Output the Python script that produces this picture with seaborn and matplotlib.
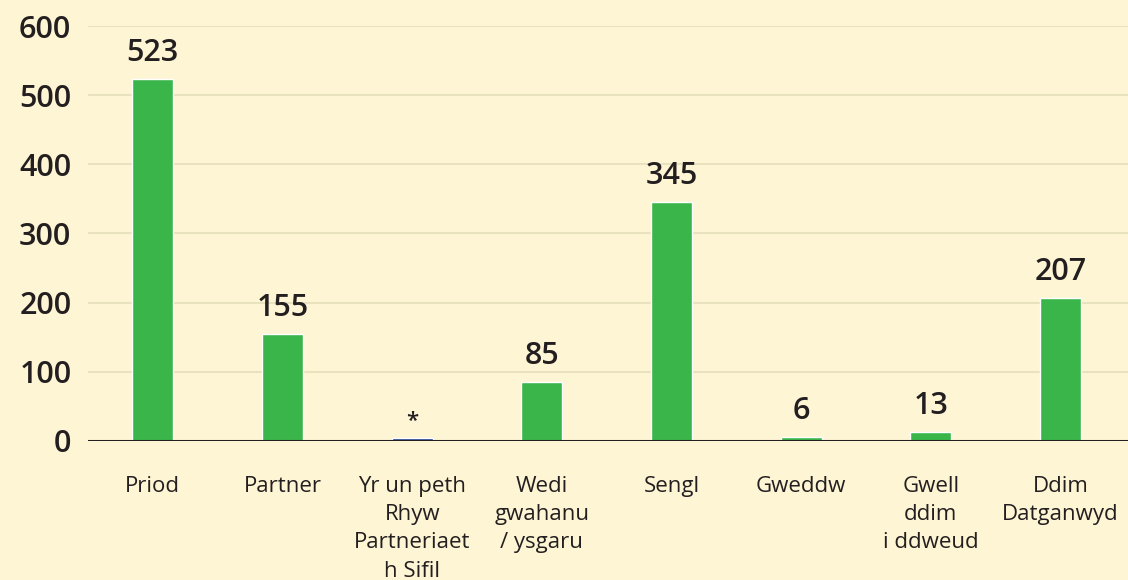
import matplotlib
matplotlib.use("Agg")
import matplotlib.pyplot as plt
import seaborn as sns
import pandas as pd

categories = ["Priod", "Partner", "Yr un peth\nRhyw\nPartneriaet\nh Sifil", "Wedi\ngwahanu\n/ ysgaru",
              "Sengl", "Gweddw", "Gwell\nddim\ni ddweud", "Ddim\nDatganwyd"]
values = [523, 155, 4, 85, 345, 6, 13, 207]
value_labels = ["523", "155", "*", "85", "345", "6", "13", "207"]
bar_colors = ["#3AB54A", "#3AB54A", "#1F3F8F", "#3AB54A", "#3AB54A", "#3AB54A", "#3AB54A", "#3AB54A"]
yticks = [0, 100, 200, 300, 400, 500, 600]

sns.set_style("white")
plt.rcParams["font.family"] = ["Open Sans", "DejaVu Sans"]

bg = "#FEF5D4"
fig = plt.figure(figsize=(11.28, 5.8), dpi=100, facecolor=bg)
ax = fig.add_axes([88 / 1128, 1 - 441 / 580, 1 - 88 / 1128, (441 - 26) / 580])
ax.set_facecolor(bg)

df = pd.DataFrame({"cat": categories, "val": values})
sns.barplot(data=df, x="cat", y="val", hue="cat", palette=bar_colors, legend=False,
            width=0.316, ax=ax, saturation=1)

ax.set_xlim(-0.5, 7.52)
ax.set_ylim(0, 600)
ax.set_yticks(yticks)
ax.set_yticklabels([str(t) for t in yticks], fontsize=22, fontweight="semibold", color="#231F20")
ax.set_xticks(range(len(categories)))
ax.set_xticklabels(categories, fontsize=16, color="#231F20", linespacing=1.46, va="top")
ax.tick_params(axis="x", length=0, pad=25)
ax.tick_params(axis="y", length=0, pad=12)
for t in yticks[1:]:
    ax.axhline(t, color="#E8E3BE", linewidth=1.5, zorder=0)
ax.axhline(0, color="#231F20", linewidth=2.2, zorder=1.5)
for s in ax.spines.values():
    s.set_visible(False)
ax.set_xlabel("")
ax.set_ylabel("")

for i, (v, lab) in enumerate(zip(values, value_labels)):
    ax.annotate(lab, (i, v), xytext=(0, 8 if lab != "*" else 5), textcoords="offset points",
                ha="center", va="bottom",
                fontsize=22 if lab != "*" else 16, fontweight="semibold", color="#231F20")

fig.savefig("out.png", dpi=100, facecolor=bg)
